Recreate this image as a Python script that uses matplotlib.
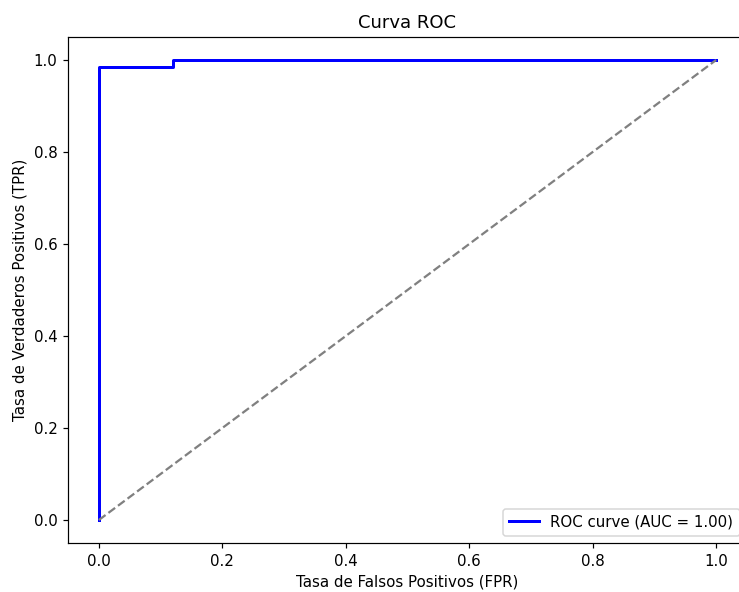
import numpy as np
import matplotlib
matplotlib.use("Agg")
import matplotlib.pyplot as plt

# ROC curve points (false positive rate vs true positive rate)
fpr = [0.0, 0.0, 0.12, 0.12, 1.0]
tpr = [0.0, 0.985, 0.985, 1.0, 1.0]
roc_auc = 1.00

# chance line
diag = [0.0, 1.0]

DPI = 108
W, H = 739, 592
fig = plt.figure(figsize=(W / DPI, H / DPI), dpi=DPI)
ax = fig.add_axes([68 / W, (H - 543) / H, 679 / W, (543 - 37) / H])

ax.plot(fpr, tpr, color="blue", lw=2, label=f"ROC curve (AUC = {roc_auc:.2f})")
ax.plot(diag, diag, color="gray", linestyle="--")
ax.set_xlabel("Tasa de Falsos Positivos (FPR)")
ax.set_ylabel("Tasa de Verdaderos Positivos (TPR)")
ax.set_title("Curva ROC")
ax.legend(loc="lower right")

fig.savefig("out.png", dpi=DPI)
